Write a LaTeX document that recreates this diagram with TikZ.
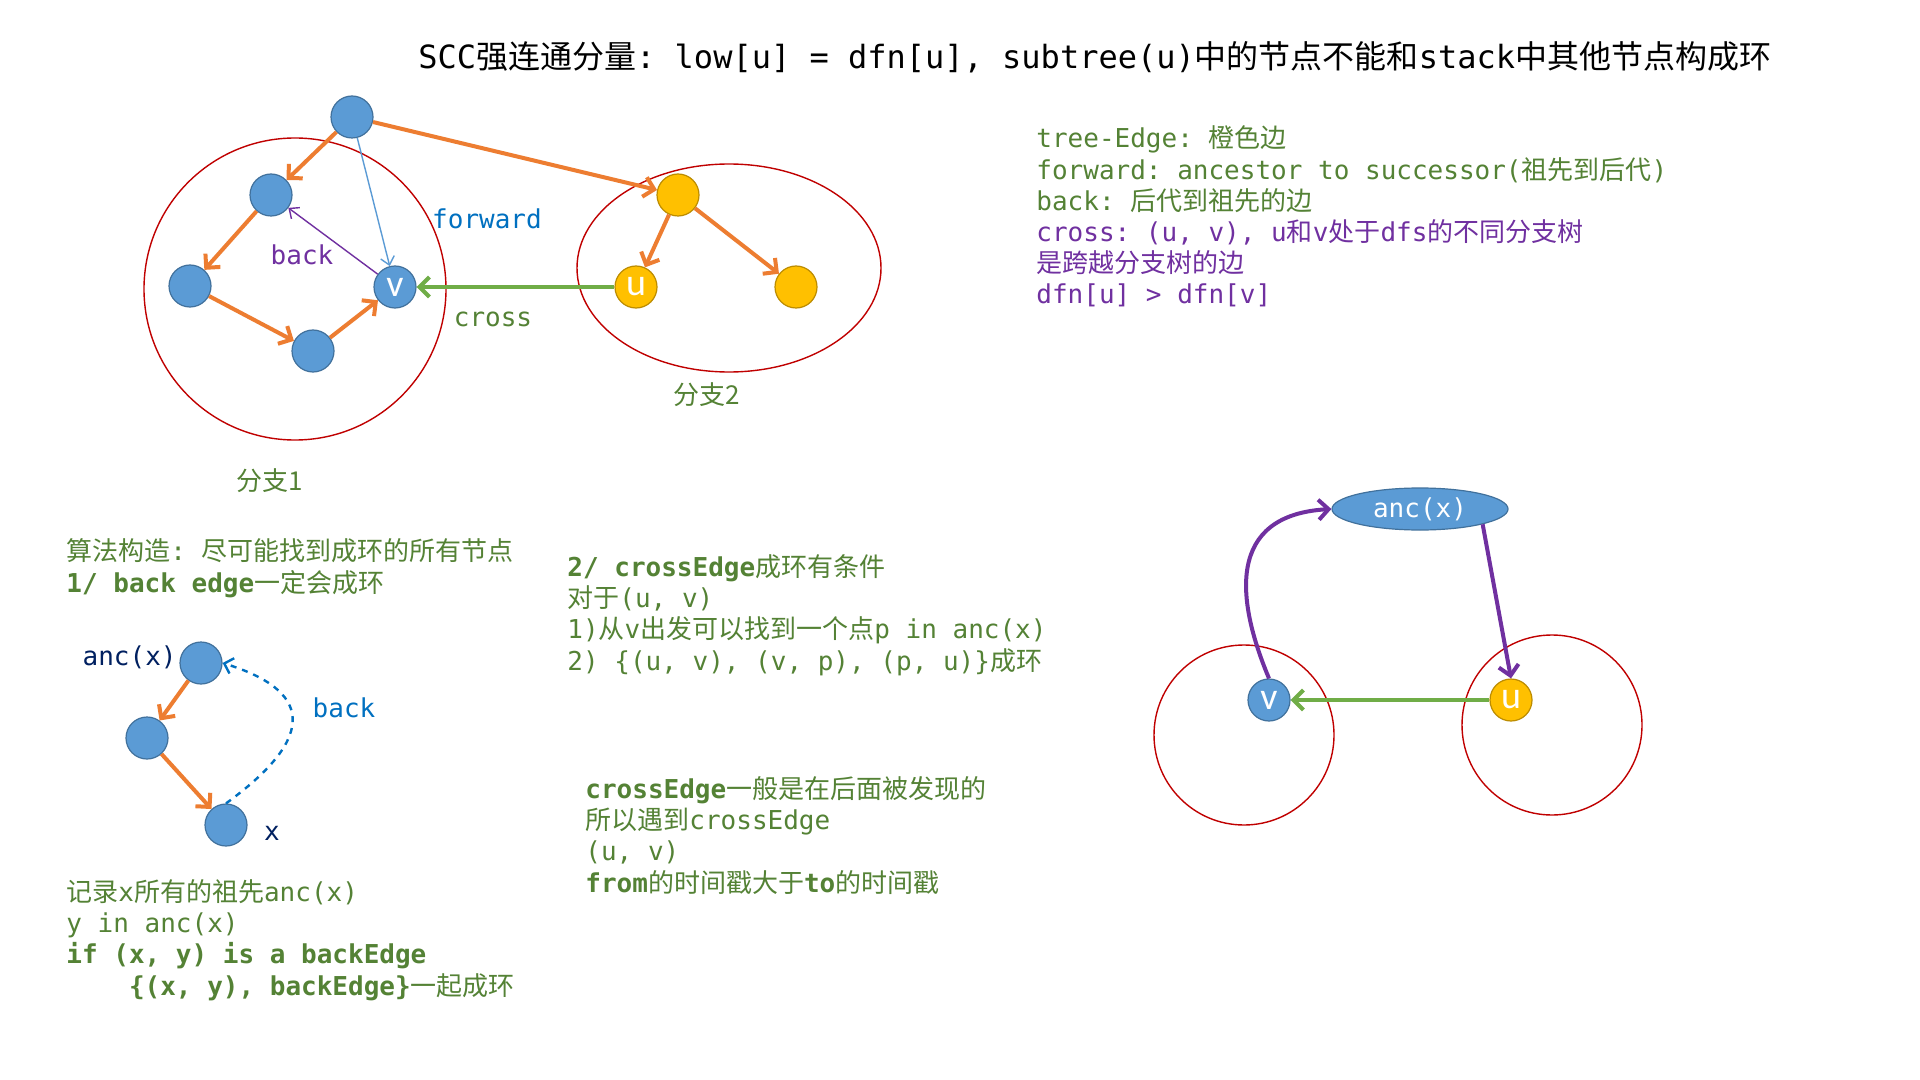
\documentclass[tikz,border=0pt]{standalone}
\usepackage{fontspec}
\setmainfont{DejaVu Sans}
\setmonofont{DejaVu Sans Mono}
\newfontfamily\cjk{Noto Sans CJK SC}
\newfontfamily\lblfont{Carlito}
\usetikzlibrary{arrows.meta,shapes.geometric}
\definecolor{nodeblue}{HTML}{5B9BD5}
\definecolor{nodeedge}{HTML}{41719C}
\definecolor{nodeyellow}{HTML}{FFC000}
\definecolor{yellowedge}{HTML}{BC8C00}
\definecolor{treeorange}{HTML}{ED7D31}
\definecolor{crossgreen}{HTML}{70AD47}
\definecolor{textgreen}{HTML}{548235}
\definecolor{purpleC}{HTML}{7030A0}
\definecolor{fwdblue}{HTML}{0070C0}
\definecolor{branchred}{HTML}{C00000}
\definecolor{navy}{HTML}{002060}
\def\zh#1{{\cjk\mdseries #1}}
\tikzset{
	vertex/.style={circle, minimum size=21pt, inner sep=0pt, fill=nodeblue, draw=nodeedge, line width=0.6pt, text=white, font=\lblfont\fontsize{19}{19}\selectfont},
	yvertex/.style={vertex, fill=nodeyellow, draw=yellowedge},
	ancnode/.style={ellipse, minimum width=88pt, minimum height=21pt, inner sep=0pt, fill=nodeblue, draw=nodeedge, line width=0.6pt, text=white, font=\ttfamily\fontsize{13}{13}\selectfont},
	branch/.style={draw=branchred, line width=0.7pt},
	treeedge/.style={draw=treeorange, line width=2pt, -{Straight Barb[length=5pt,width=10pt]}},
	crossedge/.style={draw=crossgreen, line width=2pt, -{Straight Barb[length=5pt,width=10pt]}},
	loopedge/.style={draw=purpleC, line width=2pt, -{Straight Barb[length=5pt,width=10pt]}},
	fwdedge/.style={draw=nodeblue, line width=0.7pt, -{Straight Barb[length=4pt,width=7pt]}},
	backedge/.style={draw=purpleC, line width=0.7pt, -{Straight Barb[length=4pt,width=7pt]}},
	dashback/.style={draw=fwdblue, line width=1.2pt, dashed, -{Straight Barb[length=4pt,width=8pt]}},
	lbl/.style={inner sep=0pt, font=\ttfamily\fontsize{13}{13}\selectfont},
	note/.style={inner sep=0pt, anchor=base west, align=left, text=textgreen, font=\ttfamily\fontsize{13}{15.6}\selectfont}
}
\begin{document}
\begin{tikzpicture}[x=0.5pt,y=-0.5pt]
			%%%%% START %%%%%
			\fill[white] (0,0) rectangle (1920,1080);
			\useasboundingbox (0,0) rectangle (1920,1080);
			
			\node[inner sep=0pt, anchor=base west, font=\ttfamily\fontsize{16}{16}\selectfont] (title) at (418,69) {SCC\zh{强连通分量}: low[u] = dfn[u], subtree(u)\zh{中的节点不能和}stack\zh{中其他节点构成环}};
			
			% branches of the dfs tree
			\draw[branch] (295,289) circle[radius=75.5pt];
			\draw[branch] (729,268) circle[x radius=76pt, y radius=52pt];
			
			\node[vertex] (root) at (352,117) {};
			\node[vertex] (a) at (271,195) {};
			\node[vertex] (b) at (190,286) {};
			\node[vertex] (c) at (313,351) {};
			\node[vertex] (v) at (395,287) {v};
			\node[yvertex] (y) at (678,195) {};
			\node[yvertex] (u) at (636,287) {u};
			\node[yvertex] (z) at (796,287) {};
			
			\draw[treeedge] (root) -- (a);
			\draw[treeedge] (a) -- (b);
			\draw[treeedge] (b) -- (c);
			\draw[treeedge] (c) -- (v);
			\draw[treeedge] (root) -- (y);
			\draw[treeedge] (y) -- (u);
			\draw[treeedge] (y) -- (z);
			\draw[fwdedge] (root) -- (v);
			\draw[backedge] (v) -- (a);
			\draw[crossedge] (u) -- (v);
			
			\node[lbl, text=fwdblue] (fwdlbl) at (487,219) {forward};
			\node[lbl, text=purpleC] (backlbl) at (302,255) {back};
			\node[lbl, text=textgreen] (crosslbl) at (493,319) {cross};
			\node[lbl, text=textgreen] (br1) at (270,481) {\zh{分支1}};
			\node[lbl, text=textgreen] (br2) at (707,395) {\zh{分支2}};
			
			% base of a note is its last line
			\node[note] (kinds) at (1036,304) {tree-Edge: \zh{橙色边}\\
				forward: ancestor to successor(\zh{祖先到后代})\\
				back: \zh{后代到祖先的边}\\
				\textcolor{purpleC}{cross: (u, v), u\zh{和}v\zh{处于}dfs\zh{的不同分支树}}\\
				\textcolor{purpleC}{\zh{是跨越分支树的边}}\\
				\textcolor{purpleC}{dfn[u] > dfn[v]}};
			
			% back edge case
			\node[note] (algo) at (66,592) {\zh{算法构造}: \zh{尽可能找到成环的所有节点}\\
				\textbf{1/ back edge}\zh{一定会成环}};
			
			\node[vertex] (anc) at (201,663) {};
			\node[vertex] (mid) at (147,738) {};
			\node[vertex] (x) at (226,825) {};
			\draw[treeedge] (anc) -- (mid);
			\draw[treeedge] (mid) -- (x);
			\draw[dashback] (x.north) .. controls (320,735) and (310,690) .. (anc.east);
			\node[lbl, text=navy, anchor=east] (anclbl) at (177,657) {anc(x)};
			\node[lbl, text=navy] (xlbl) at (272,833) {x};
			\node[lbl, text=fwdblue] (dashlbl) at (344,708) {back};
			
			\node[note] (record) at (66,995) {\zh{记录}x\zh{所有的祖先}anc(x)\\
				y in anc(x)\\
				\textbf{if (x, y) is a backEdge}\\
				\phantom{xxxx}\textbf{\{(x, y), backEdge\}}\zh{一起成环}};
			
			% cross edge case
			\node[note] (cond) at (567,670) {\textbf{2/ crossEdge}\zh{成环有条件}\\
				\zh{对于}(u, v)\\
				1)\zh{从}v\zh{出发可以找到一个点}p in anc(x)\\
				2) \{(u, v), (v, p), (p, u)\}\zh{成环}};
			
			\node[note] (later) at (585,892) {\textbf{crossEdge}\zh{一般是在后面被发现的}\\
				\zh{所以遇到}crossEdge\\
				(u, v)\\
				\textbf{from}\zh{的时间戳大于}\textbf{to}\zh{的时间戳}};
			
			\draw[branch] (1244,735) circle[radius=45pt];
			\draw[branch] (1552,725) circle[radius=45pt];
			\node[vertex] (rv) at (1269,700) {v};
			\node[yvertex] (ru) at (1511,700) {u};
			\node[ancnode] (ranc) at (1420,509) {anc(x)};
			\draw[loopedge] (rv.north) .. controls (1236,600) and (1226,515) .. (ranc.west);
			\draw[loopedge] (ranc.south east) -- (ru.north);
			\draw[crossedge] (ru) -- (rv);
			
			%%%%% END %%%%%
		\end{tikzpicture}
\end{document}
